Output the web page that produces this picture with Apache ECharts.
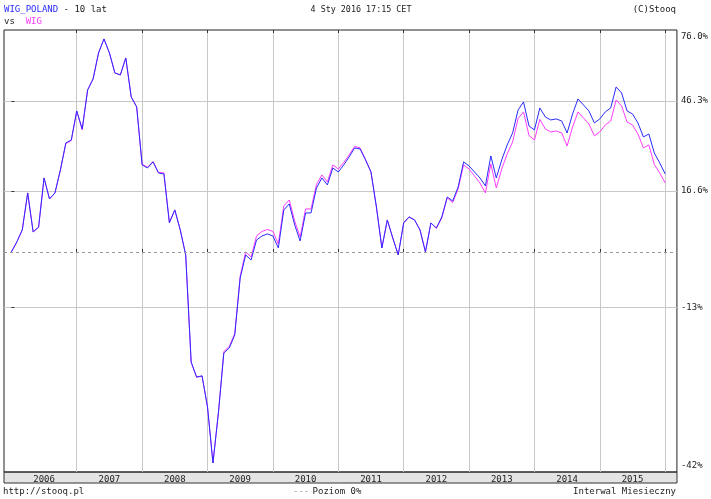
<!DOCTYPE html>
<html>
<head>
<meta charset="utf-8">
<title>WIG_POLAND vs WIG</title>
<script src="https://cdn.jsdelivr.net/npm/echarts@6/dist/echarts.min.js"></script>
<style>
  html, body { margin: 0; padding: 0; background: #fff; }
  #main { width: 711px; height: 499px; }
</style>
</head>
<body>
<div id="main"></div>
<script>
// monthly points, Jan 2006 .. Jan 2016, % change from start
var years = ['2006', '2007', '2008', '2009', '2010', '2011', '2012', '2013', '2014', '2015'];

var wigPoland = [
  0.0, 2.55, 5.70, 16.02, 5.17, 6.50, 20.49, 14.28, 16.02, 22.94, 31.60, 32.59,
  42.64, 36.32, 50.39, 54.61, 65.08, 71.00, 65.08, 56.97, 56.18, 63.02, 47.76, 44.08,
  24.50, 23.56, 25.45, 22.02, 21.71, 7.58, 11.16, 5.70, -0.75, -24.20, -27.01, -26.82,
  -32.32, -41.23, -33.34, -22.46, -21.48, -18.86, -6.34, -0.75, -2.00, 3.07, 4.11, 4.64,
  4.11, 1.01, 11.16, 12.85, 7.04, 2.81, 10.32, 10.32, 17.49, 20.49, 18.38, 23.56,
  22.32, 24.50, 27.04, 29.95, 29.62, 26.08, 22.32, 12.00, 1.01, 8.39, 3.59, -0.75,
  7.58, 9.22, 8.39, 5.70, 0.0, 7.58, 6.23, 9.22, 14.86, 13.71, 17.79, 25.45,
  24.19, 22.32, 20.49, 18.09, 27.35, 20.49, 26.08, 30.93, 34.95, 43.00, 45.91, 37.35,
  35.98, 43.72, 40.50, 39.45, 39.80, 39.09, 34.95, 41.57, 47.02, 44.81, 42.64, 38.39,
  39.80, 42.28, 43.72, 51.53, 49.26, 42.64, 41.57, 38.39, 33.60, 34.61, 28.32, 25.13,
  21.71
];

var wig = [
  0.0, 2.55, 5.70, 16.02, 5.17, 6.37, 20.49, 14.28, 16.02, 22.94, 31.36, 32.36,
  42.64, 35.98, 50.39, 54.61, 65.08, 71.00, 65.08, 56.97, 56.18, 63.02, 47.76, 44.08,
  24.72, 23.78, 25.60, 22.17, 22.02, 7.85, 11.16, 5.70, -0.75, -24.30, -27.10, -26.82,
  -32.32, -41.23, -33.34, -22.17, -21.18, -18.56, -5.87, 0.0, -1.25, 4.11, 5.30, 5.83,
  5.30, 2.04, 12.28, 13.99, 8.12, 3.85, 11.44, 11.44, 18.53, 21.40, 19.28, 24.50,
  23.25, 25.29, 27.68, 30.44, 29.95, 26.24, 22.32, 12.00, 1.01, 8.39, 3.59, -0.75,
  7.58, 9.22, 8.39, 5.70, 0.0, 7.58, 6.10, 8.94, 14.57, 13.28, 17.20, 24.50,
  23.25, 21.10, 18.98, 16.02, 24.82, 17.49, 23.25, 28.00, 31.93, 39.97, 42.28, 34.11,
  32.59, 39.62, 36.32, 35.29, 35.63, 34.95, 30.60, 37.00, 42.28, 40.15, 38.05, 33.94,
  35.29, 37.70, 39.09, 46.65, 44.45, 38.74, 37.70, 34.61, 29.95, 30.93, 24.66, 22.02,
  18.98
];

var yLabelText = ['76.0%', '46.3%', '16.6%', '-13%', '-42%'];
var yTickPct = [46.3, 16.6, -13];
var yMaxPct = 74.9;
var yMinPct = -42.55;

var MONO = '"DejaVu Sans Mono", "Liberation Mono", monospace';

// log scale of (1 + change)
function toLog(p) { return Math.log(1 + p / 100); }
var yMin = toLog(yMinPct), yMax = toLog(yMaxPct);
var yTickVals = yTickPct.map(toLog);
var yLabelVals = [yMax].concat(yTickVals).concat([yMin]);

var yearStarts = years.map(function (y, k) { return 12 * (k + 1); });
var yearMids = years.map(function (y, k) { return 12 * k + 6; });

function toPoints(arr) {
  return arr.map(function (v, i) { return [i, toLog(v)]; });
}

var labelFont = { fontSize: 9, fontFamily: MONO, color: '#222' };

var myChart = echarts.init(document.getElementById('main'));
var option = {
  animation: false,
  backgroundColor: '#fff',
  textStyle: { fontFamily: MONO },
  grid: {
    left: 4, right: 34, top: 30, bottom: 27,
    show: true, borderColor: '#222', borderWidth: 1, backgroundColor: 'transparent'
  },
  graphic: [
    { type: 'rect', z: -1, shape: { x: 4, y: 472, width: 673, height: 11 },
      style: { fill: '#e4e4e4', stroke: '#333', lineWidth: 1 } },
    { type: 'text', x: 4, y: 10,
      style: { text: '{b|WIG_POLAND}{t| - 10 lat}', verticalAlign: 'middle',
        rich: { b: { fill: '#2a2aff', fontSize: 9, fontFamily: MONO },
                t: { fill: '#222', fontSize: 9, fontFamily: MONO } } } },
    { type: 'text', x: 4, y: 22,
      style: { text: '{t|vs  }{p|WIG}', verticalAlign: 'middle',
        rich: { p: { fill: '#ff3cff', fontSize: 9, fontFamily: MONO },
                t: { fill: '#222', fontSize: 9, fontFamily: MONO } } } },
    { type: 'text', x: 361, y: 10,
      style: { text: '4 Sty 2016 17:15 CET', align: 'center', verticalAlign: 'middle',
        fill: '#222', fontSize: 8.4, fontFamily: MONO } },
    { type: 'text', x: 676, y: 10,
      style: { text: '(C)Stooq', align: 'right', verticalAlign: 'middle',
        fill: '#222', fontSize: 9, fontFamily: MONO } },
    { type: 'text', x: 3, y: 492,
      style: { text: 'http://stooq.pl', verticalAlign: 'middle',
        fill: '#222', fontSize: 9, fontFamily: MONO } },
    { type: 'text', x: 293, y: 492,
      style: { text: '{g|---} {t|Poziom 0%}', verticalAlign: 'middle',
        rich: { g: { fill: '#999', fontSize: 9, fontFamily: MONO },
                t: { fill: '#222', fontSize: 9, fontFamily: MONO } } } },
    { type: 'text', x: 676, y: 492,
      style: { text: 'Interwal Miesieczny', align: 'right', verticalAlign: 'middle',
        fill: '#222', fontSize: 9, fontFamily: MONO } }
  ],
  xAxis: [{
    type: 'value', min: -1.35, max: 122.15, position: 'bottom',
    axisLine: { show: false },
    axisTick: { show: true, inside: true, length: 3, customValues: yearStarts,
      lineStyle: { color: '#333' } },
    splitLine: { show: true, lineStyle: { color: '#c8c8c8', width: 1 } },
    axisLabel: {
      customValues: yearMids, margin: 3, fontSize: 9, fontFamily: MONO, color: '#222',
      formatter: function (v) { return years[Math.round((v - 6) / 12)]; }
    }
  }, {
    type: 'value', min: -1.35, max: 122.15, position: 'top',
    axisLine: { show: false },
    axisTick: { show: true, inside: true, length: 3, customValues: yearStarts,
      lineStyle: { color: '#333' } },
    splitLine: { show: false },
    axisLabel: { show: false }
  }],
  yAxis: {
    type: 'value', position: 'right', min: yMin, max: yMax,
    axisLine: { show: false },
    axisTick: { show: true, length: 3, customValues: yTickVals, lineStyle: { color: '#333' } },
    splitLine: { show: true, lineStyle: { color: '#c8c8c8', width: 1 } },
    axisLabel: {
      customValues: yLabelVals, margin: 4, fontSize: 9, fontFamily: MONO, color: '#222',
      rich: {
        hi: Object.assign({ padding: [14, 0, 0, 0] }, labelFont),
        lo: Object.assign({ padding: [0, 0, 12, 0] }, labelFont),
        mid: labelFont
      },
      formatter: function (v) {
        var best = 0;
        for (var k = 1; k < yLabelVals.length; k++) {
          if (Math.abs(yLabelVals[k] - v) < Math.abs(yLabelVals[best] - v)) best = k;
        }
        // end labels sit inside the frame, like the original
        var key = best === 0 ? 'hi' : (best === yLabelVals.length - 1 ? 'lo' : 'mid');
        return '{' + key + '|' + yLabelText[best] + '}';
      }
    }
  },
  series: [{
    name: 'WIG', type: 'line', data: toPoints(wig),
    showSymbol: false, symbol: 'none',
    lineStyle: { color: '#ff3cff', width: 1 },
    markLine: {
      silent: true, symbol: 'none', label: { show: false },
      lineStyle: { color: '#999', type: [3, 3], width: 1 },
      data: [{ yAxis: 0 }]
    }
  }, {
    name: 'WIG_POLAND', type: 'line', data: toPoints(wigPoland),
    showSymbol: false, symbol: 'none',
    lineStyle: { color: '#2a2aff', width: 1 }
  }]
};
myChart.setOption(option);
</script>
</body>
</html>
